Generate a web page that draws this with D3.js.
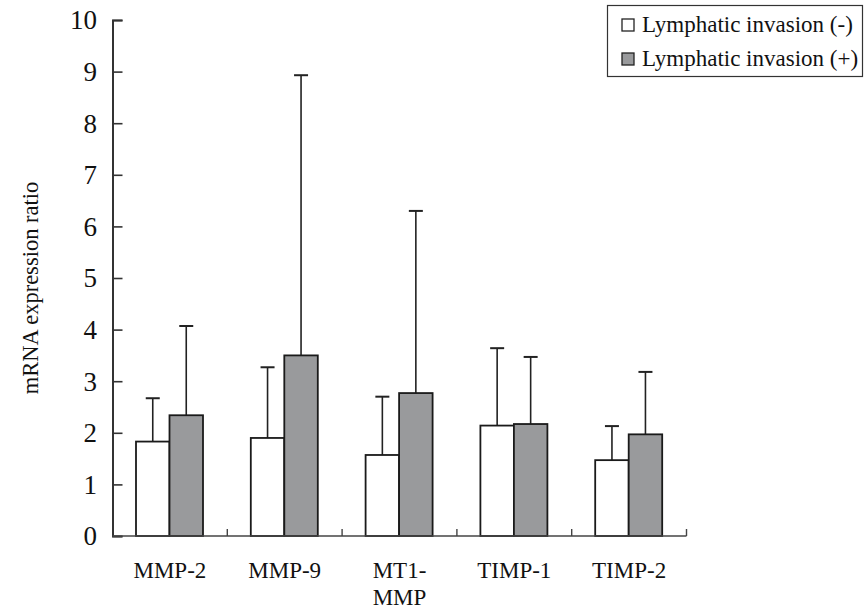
<!DOCTYPE html>
<html>
<head>
<meta charset="utf-8">
<script src="https://cdnjs.cloudflare.com/ajax/libs/d3/7.8.5/d3.min.js"></script>
<style>
  body { margin: 0; background: #fff; }
</style>
</head>
<body>
<svg id="chart" width="864" height="610" font-family="'Liberation Serif', 'DejaVu Serif', serif"></svg>
<script>
// categories and series
var categories = ["MMP-2", "MMP-9", "MT1-MMP", "TIMP-1", "TIMP-2"];
var catLines = [["MMP-2"], ["MMP-9"], ["MT1-", "MMP"], ["TIMP-1"], ["TIMP-2"]];
var seriesNames = ["Lymphatic invasion (-)", "Lymphatic invasion (+)"];
var negMean = [1.83, 1.90, 1.57, 2.14, 1.47];
var negErr  = [0.84, 1.37, 1.13, 1.50, 0.66];
var posMean = [2.34, 3.50, 2.77, 2.17, 1.97];
var posErr  = [1.73, 5.43, 3.53, 1.30, 1.21];
var yTicks = [0, 1, 2, 3, 4, 5, 6, 7, 8, 9, 10];

var fills = ["#ffffff", "#999a9c"];
var ink = "#111";

var svg = d3.select("#chart");

var plotLeft = 112.5, plotRight = 686.5, plotTop = 20, plotBottom = 536;

var x0 = d3.scaleBand().domain(categories).range([plotLeft, plotRight]).padding(0);
var x1 = d3.scaleBand().domain([0, 1]).range([23.5, 90.5]).padding(0);
var y = d3.scaleLinear().domain([0, 10]).range([plotBottom, plotTop]);

// rows for drawing
var rows = [];
categories.forEach(function(c, i) {
	rows.push({cat: c, s: 0, v: negMean[i], e: negErr[i]});
	rows.push({cat: c, s: 1, v: posMean[i], e: posErr[i]});
});

function cx(d) { return x0(d.cat) + x1(d.s) + x1.bandwidth() / 2; }

// error bars (behind bars)
var eb = svg.append("g").attr("class", "errbars");
eb.selectAll("line.whisk")
	.data(rows)
	.enter()
	.append("line")
	.attr("x1", cx)
	.attr("x2", cx)
	.attr("y1", function(d) { return y(d.v); })
	.attr("y2", function(d) { return y(d.v + d.e); })
	.attr("stroke", "#222")
	.attr("stroke-width", 1.6);
eb.selectAll("line.cap")
	.data(rows)
	.enter()
	.append("line")
	.attr("x1", function(d) { return cx(d) - 7; })
	.attr("x2", function(d) { return cx(d) + 7; })
	.attr("y1", function(d) { return y(d.v + d.e); })
	.attr("y2", function(d) { return y(d.v + d.e); })
	.attr("stroke", "#222")
	.attr("stroke-width", 2);

// bars
svg.append("g").selectAll("rect")
	.data(rows)
	.enter()
	.append("rect")
	.attr("x", function(d) { return x0(d.cat) + x1(d.s); })
	.attr("y", function(d) { return y(d.v); })
	.attr("width", x1.bandwidth())
	.attr("height", function(d) { return y(0) - y(d.v); })
	.attr("fill", function(d) { return fills[d.s]; })
	.attr("stroke", "#1a1a1a")
	.attr("stroke-width", 1.8);

// y axis
var yAxis = d3.axisRight(y).tickValues(yTicks).tickSize(10).tickFormat("");
var gy = svg.append("g").attr("transform", "translate(" + plotLeft + ",0)").call(yAxis);
gy.select(".domain").attr("stroke", "#333").attr("stroke-width", 2);
gy.selectAll(".tick line").attr("stroke", "#333").attr("stroke-width", 1.6);

svg.append("g").selectAll("text.ytl")
	.data(yTicks)
	.enter()
	.append("text")
	.attr("x", 97)
	.attr("y", function(d) { return y(d); })
	.attr("dy", "0.35em")
	.attr("text-anchor", "end")
	.attr("font-size", 27)
	.attr("fill", ink)
	.text(function(d) { return d; });

// x axis: ticks at category boundaries, pointing up
var bounds = categories.map(function(c) { return x0(c) + x0.bandwidth(); });
svg.append("line")
	.attr("x1", plotLeft).attr("x2", plotRight)
	.attr("y1", plotBottom).attr("y2", plotBottom)
	.attr("stroke", "#444").attr("stroke-width", 1.6);
svg.append("g").selectAll("line")
	.data(bounds)
	.enter()
	.append("line")
	.attr("x1", function(d) { return d; })
	.attr("x2", function(d) { return d; })
	.attr("y1", plotBottom).attr("y2", plotBottom - 7)
	.attr("stroke", "#444").attr("stroke-width", 1.4);

var xl = svg.append("g").selectAll("text.xl")
	.data(categories)
	.enter()
	.append("text")
	.attr("x", function(c) { return x0(c) + x0.bandwidth() / 2; })
	.attr("y", 578)
	.attr("text-anchor", "middle")
	.attr("font-size", 23)
	.attr("fill", ink);
xl.selectAll("tspan")
	.data(function(c, i) { return catLines[i]; })
	.enter()
	.append("tspan")
	.attr("x", function() { return d3.select(this.parentNode).attr("x"); })
	.attr("dy", function(d, j) { return j === 0 ? 0 : 27; })
	.text(function(d) { return d; });

// y label
svg.append("text")
	.attr("transform", "translate(38,288) rotate(-90)")
	.attr("text-anchor", "middle")
	.attr("font-size", 22.5)
	.attr("fill", ink)
	.text("mRNA expression ratio");

// legend
var lg = svg.append("g").attr("class", "legend");
lg.append("rect")
	.attr("x", 607.5).attr("y", 5.5)
	.attr("width", 255).attr("height", 71)
	.attr("fill", "#fff").attr("stroke", "#333").attr("stroke-width", 1.2);
var li = lg.selectAll("g.item")
	.data(seriesNames)
	.enter()
	.append("g")
	.attr("transform", function(d, i) { return "translate(0," + (25 + i * 34) + ")"; });
li.append("rect")
	.attr("x", 622).attr("y", -6)
	.attr("width", 12).attr("height", 12)
	.attr("fill", function(d, i) { return fills[i]; })
	.attr("stroke", "#222").attr("stroke-width", 1.3);
li.append("text")
	.attr("x", 642)
	.attr("dy", "0.3em")
	.attr("font-size", 23)
	.attr("fill", ink)
	.text(function(d) { return d; });
</script>
</body>
</html>
